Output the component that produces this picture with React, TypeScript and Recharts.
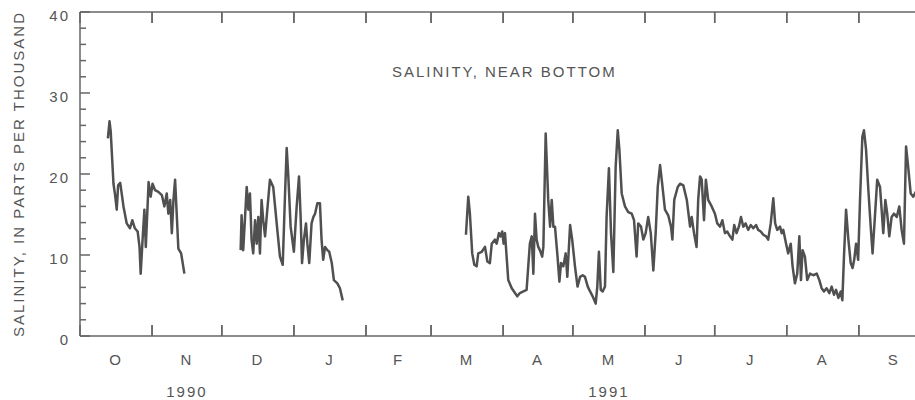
import { ComposedChart, Label, Line, ReferenceLine, XAxis, YAxis } from "recharts";

const INK = "#555";
const AXIS = "#666";
const LINE = "#505050";
const FONT = '"Liberation Sans", Arial, Helvetica, sans-serif';

// layout: top frame band 12px, bottom bands 1 + 40 + 23px
const CHART_W = 940;
const CHART_H = 400;
const TOP_BAND = 12;
const BOTTOM_BANDS = [1, 40, 23];
const PLOT_H = CHART_H - TOP_BAND - BOTTOM_BANDS.reduce((a, b) => a + b, 0);
const FRAME_TICK = 11;

// x = days since 1 Oct 1990 (water year 1991)
const MONTH_STARTS = [0, 31, 61, 92, 123, 151, 182, 212, 243, 273, 304, 335, 365];
const MONTH_MIDS = [15.5, 46, 76.5, 107.5, 137, 166.5, 197, 227.5, 258, 288.5, 319.5, 350];
const MONTH_LABELS = ["O", "N", "D", "J", "F", "M", "A", "M", "J", "J", "A", "S"];
const YEAR_TICKS = [46, 227.5];
const YEAR_LABELS = ["1990", "1991"];
const SAL_TICKS = [0, 2, 4, 6, 8, 10, 12, 14, 16, 18, 20, 22, 24, 26, 28, 30, 32, 34, 36, 38, 40];
const SAL_MAX = 40;

// [day, salinity ppt]
const OCT_NOV_1990: [number, number][] = [
  [12, 24.4], [12.7, 26.5], [13.2, 25.3], [14.4, 18.8], [15.1, 17.4], [15.8, 15.6], [16.4, 18.6],
  [17.3, 18.9], [18.7, 16.0], [20.1, 13.9], [21.5, 13.3], [22.5, 14.3], [23.6, 13.3], [24.8, 12.9],
  [25.6, 11.0], [26.1, 7.7], [27.0, 12.3], [27.7, 15.6], [28.3, 11.0], [29.0, 15.6], [29.5, 19.0],
  [30.4, 17.2], [31.2, 18.8], [32.3, 18.0], [33.7, 17.8], [35.2, 17.4], [36.3, 16.0], [37.3, 17.6],
  [38.0, 15.1], [38.8, 16.8], [39.5, 12.7], [40.2, 16.8], [40.9, 19.3], [41.6, 15.1], [42.3, 10.8],
  [43.5, 10.2], [44.9, 7.7],
];

const DEC_JAN: [number, number][] = [
  [69.1, 10.6], [69.5, 14.9], [70.2, 10.6], [71.0, 14.7], [71.7, 18.4], [72.4, 15.6], [73.1, 17.6],
  [73.8, 11.9], [74.5, 10.2], [75.3, 14.3], [76.0, 11.4], [76.7, 14.7], [77.4, 10.2], [78.1, 16.8],
  [78.8, 14.3], [79.6, 12.3], [80.3, 14.7], [81.7, 19.3], [83.1, 18.4], [84.6, 13.9], [86.0, 9.8],
  [87.2, 8.8], [88.2, 17.6], [88.9, 23.2], [89.6, 19.7], [90.6, 13.5], [92.0, 10.4], [93.2, 16.0],
  [94.2, 19.7], [94.9, 14.7], [95.5, 9.0], [96.3, 11.9], [97.2, 13.9], [97.8, 11.4], [98.6, 9.0],
  [99.6, 13.9], [100.4, 14.7], [101.1, 15.1], [102.1, 16.4], [103.2, 16.4], [103.9, 11.9],
  [104.6, 9.4], [105.4, 11.0], [106.4, 10.6], [107.2, 10.4], [108.3, 9.0], [109.2, 6.9],
  [110.7, 6.5], [111.8, 5.9], [113.0, 4.4],
];

const MAR_SEP_1991: [number, number][] = [
  [166.0, 12.5], [167.0, 17.2], [167.7, 15.1], [168.7, 10.2], [169.6, 8.8], [170.6, 8.6], [171.3, 10.2],
  [172.8, 10.4], [174.2, 11.0], [175.2, 9.2], [176.3, 9.0], [177.1, 11.4], [178.5, 11.9], [179.2, 11.4],
  [180.2, 12.7], [180.9, 12.3], [181.6, 12.9], [182.2, 11.4], [182.8, 12.7], [183.5, 9.8], [184.2, 6.9],
  [185.7, 5.9], [187.1, 5.3], [188.1, 4.9], [189.2, 5.3], [190.7, 5.5], [192.1, 5.7], [192.8, 8.6],
  [193.5, 11.4], [194.3, 12.3], [195.0, 7.7], [195.7, 15.1], [196.4, 11.9], [197.1, 11.0], [197.8, 10.6],
  [198.8, 9.8], [199.3, 11.0], [200.3, 25.0], [201.4, 16.8], [202.2, 13.5], [202.9, 16.8], [203.6, 13.5],
  [204.3, 13.5], [205.4, 9.8], [206.2, 6.7], [206.9, 9.0], [207.9, 8.6], [208.9, 10.2], [209.6, 7.3],
  [210.8, 13.7], [211.7, 11.9], [212.9, 8.6], [214.0, 6.1], [215.1, 7.3], [216.2, 7.5], [217.2, 7.3],
  [218.4, 6.1], [219.4, 5.5], [220.5, 4.9], [221.8, 4.0], [222.5, 6.1], [223.2, 10.4], [224.0, 5.7],
  [224.8, 5.5], [225.8, 6.1], [226.5, 14.7], [227.5, 20.7], [228.4, 12.7], [229.4, 7.9], [230.4, 20.9],
  [231.3, 25.4], [232.0, 23.0], [233.0, 17.6], [234.4, 16.0], [235.8, 15.3], [237.3, 15.1], [238.3, 14.3],
  [239.4, 9.8], [240.1, 13.9], [241.3, 13.5], [242.3, 11.9], [243.3, 12.7], [244.4, 14.7], [245.5, 12.7],
  [246.6, 8.1], [247.6, 12.7], [248.5, 18.4], [249.5, 21.1], [250.4, 18.8], [251.6, 15.6], [253.0, 14.9],
  [254.2, 13.5], [254.8, 11.9], [255.6, 16.8], [257.1, 18.4], [258.1, 18.8], [259.5, 18.6], [261.0, 16.8],
  [262.4, 13.5], [263.1, 14.7], [264.1, 12.7], [265.2, 11.0], [265.9, 16.8], [266.7, 19.7], [267.4, 19.3],
  [268.4, 14.3], [269.2, 19.3], [270.2, 16.8], [271.7, 16.0], [273.1, 15.1], [274.1, 13.9], [275.3, 13.5],
  [276.3, 14.3], [277.4, 12.7], [278.4, 12.9], [279.6, 12.3], [280.6, 11.9], [281.4, 13.7], [282.4, 12.7],
  [283.4, 13.5], [284.3, 14.7], [285.3, 13.5], [286.3, 13.9], [287.4, 13.1], [288.5, 13.7], [289.6, 13.3],
  [290.8, 13.7], [291.7, 13.1], [292.8, 12.9], [293.9, 12.5], [295.1, 12.3], [296.0, 11.9], [297.1, 13.9],
  [298.2, 17.0], [299.0, 13.9], [299.9, 13.1], [301.1, 13.5], [301.8, 12.7], [302.5, 13.1], [303.7, 11.4],
  [304.6, 10.2], [305.7, 11.4], [306.5, 8.6], [307.5, 6.5], [308.5, 7.7], [309.4, 12.3], [310.1, 6.9],
  [310.8, 10.6], [311.8, 9.8], [312.8, 6.9], [314.0, 7.7], [315.4, 7.5], [316.9, 7.7], [318.0, 6.9],
  [319.0, 5.9], [320.0, 5.5], [321.1, 5.9], [322.3, 5.3], [323.3, 6.1], [324.3, 5.1], [325.2, 5.7],
  [326.2, 4.7], [327.2, 5.5], [327.9, 4.4], [328.6, 9.8], [329.5, 15.6], [330.5, 11.9], [331.5, 9.0],
  [332.3, 8.4], [333.0, 9.4], [333.8, 11.4], [334.7, 9.4], [335.5, 16.8], [336.5, 24.6], [337.2, 25.4],
  [338.1, 23.0], [339.1, 18.0], [340.1, 13.5], [340.9, 10.2], [341.9, 14.7], [342.9, 19.3], [344.1, 18.4],
  [344.8, 15.6], [345.5, 12.7], [346.4, 16.8], [347.2, 15.1], [348.1, 12.3], [349.1, 14.7], [350.1, 15.1],
  [351.3, 14.7], [352.4, 16.0], [353.4, 13.1], [354.4, 11.4], [355.3, 23.4], [356.2, 20.9], [357.3, 17.6],
  [358.4, 17.2], [359.5, 17.8], [361.0, 16.5],
];

const toRows = (seg: [number, number][]) => seg.map(([day, sal]) => ({ day, sal }));
// null rows break the line across the record gaps
const data = [
  ...toRows(OCT_NOV_1990),
  { day: 57, sal: null },
  ...toRows(DEC_JAN),
  { day: 140, sal: null },
  ...toRows(MAR_SEP_1991),
];

const TEXT_STYLE = { letterSpacing: 2 };
const AXIS_LINE = { stroke: AXIS, strokeWidth: 1.5 };

// inward month tick on the bottom frame, repeated on the top frame
function MonthTick({ x, y }: any) {
  const top = y - PLOT_H;
  return (
    <g>
      <line x1={x} x2={x} y1={y} y2={y - FRAME_TICK} stroke={AXIS} strokeWidth={1.5} />
      <line x1={x} x2={x} y1={top} y2={top + FRAME_TICK} stroke={AXIS} strokeWidth={1.5} />
    </g>
  );
}

function SalTick({ x, y, payload, side }: any) {
  const major = payload.value % 10 === 0;
  const len = major ? 10 : 6;
  const dir = side === "left" ? 1 : -1;
  return (
    <g>
      <line x1={x} x2={x + dir * len} y1={y} y2={y} stroke={AXIS} strokeWidth={1.5} />
      {side === "left" && major && (
        <text x={x - 10} y={y + 8.5} textAnchor="end" fill={INK} fontSize={15} fontFamily={FONT} style={TEXT_STYLE}>
          {payload.value}
        </text>
      )}
    </g>
  );
}

export default function App() {
  return (
    <div style={{ position: "absolute", left: 0, top: 0, width: 915, height: CHART_H, overflow: "hidden", background: "#fff" }}>
      <ComposedChart width={CHART_W} height={CHART_H} data={data} margin={{ top: 0, right: 10.4, bottom: 0, left: 0 }}>
        {/* top frame */}
        <XAxis
          xAxisId="ax0"
          orientation="top"
          type="number"
          dataKey="day"
          domain={[0, 365]}
          ticks={MONTH_STARTS}
          interval={0}
          height={TOP_BAND}
          tickLine={false}
          tick={false}
          axisLine={AXIS_LINE}
        >
          <Label
            value="SALINITY, NEAR BOTTOM"
            position="bottom"
            offset={54}
            fill={INK}
            fontSize={15}
            fontFamily={FONT}
            style={TEXT_STYLE}
          />
        </XAxis>
        {/* bottom frame with month ticks */}
        <XAxis
          xAxisId="ax1"
          type="number"
          dataKey="day"
          domain={[0, 365]}
          ticks={MONTH_STARTS}
          interval={0}
          height={BOTTOM_BANDS[0]}
          tickSize={0}
          tickMargin={0}
          tickLine={false}
          axisLine={AXIS_LINE}
          tick={(p: any) => <MonthTick {...p} />}
        />
        <XAxis
          xAxisId="ax2"
          type="number"
          dataKey="day"
          domain={[0, 365]}
          ticks={MONTH_MIDS}
          interval={0}
          height={BOTTOM_BANDS[1]}
          tickSize={0}
          tickMargin={17.5}
          tickLine={false}
          axisLine={false}
          tickFormatter={(_v: number, i: number) => MONTH_LABELS[i]}
          tick={{ fill: INK, fontSize: 15, fontFamily: FONT, style: TEXT_STYLE }}
        />
        <XAxis
          xAxisId="ax3"
          type="number"
          dataKey="day"
          domain={[0, 365]}
          ticks={YEAR_TICKS}
          interval={0}
          height={BOTTOM_BANDS[2]}
          tickSize={0}
          tickMargin={9}
          tickLine={false}
          axisLine={false}
          tickFormatter={(_v: number, i: number) => YEAR_LABELS[i]}
          tick={{ fill: INK, fontSize: 15, fontFamily: FONT, style: TEXT_STYLE }}
        />
        <YAxis
          yAxisId="left"
          type="number"
          domain={[0, SAL_MAX]}
          ticks={SAL_TICKS}
          interval={0}
          width={80}
          tickSize={0}
          tickMargin={0}
          tickLine={false}
          axisLine={AXIS_LINE}
          tick={(p: any) => <SalTick {...p} side="left" />}
          label={{
            value: "SALINITY, IN PARTS PER THOUSAND",
            angle: -90,
            position: "insideLeft",
            offset: 19,
            fill: INK,
            fontSize: 15,
            fontFamily: FONT,
            style: { textAnchor: "middle", letterSpacing: 2 },
          }}
        />
        <YAxis
          yAxisId="right"
          orientation="right"
          type="number"
          domain={[0, SAL_MAX]}
          ticks={SAL_TICKS}
          interval={0}
          width={1}
          tickSize={0}
          tickMargin={0}
          tickLine={false}
          axisLine={AXIS_LINE}
          tick={(p: any) => <SalTick {...p} side="right" />}
        />
        {/* month ticks hanging inward from the top frame: full-height line dashed so only its ends show */}
        {MONTH_STARTS.slice(1, -1).map((d) => (
          <ReferenceLine
            key={d}
            x={d}
            xAxisId="ax1"
            yAxisId="left"
            stroke={AXIS}
            strokeWidth={1.5}
            strokeDasharray={`${FRAME_TICK} ${PLOT_H - 2 * FRAME_TICK} ${FRAME_TICK}`}
          />
        ))}
        <Line
          xAxisId="ax1"
          yAxisId="left"
          type="linear"
          dataKey="sal"
          stroke={LINE}
          strokeWidth={2.5}
          strokeLinejoin="round"
          dot={false}
          connectNulls={false}
          isAnimationActive={false}
        />
      </ComposedChart>
    </div>
  );
}
